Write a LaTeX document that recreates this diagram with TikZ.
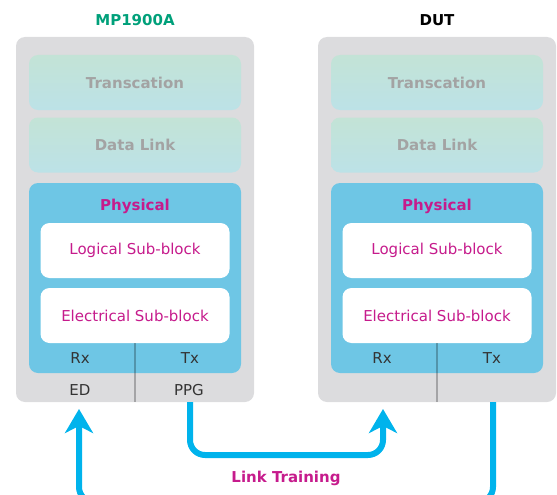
\documentclass[tikz,border=0pt]{standalone}
\usepackage{fontspec}
\setmainfont{DejaVu Sans}
\usetikzlibrary{arrows.meta}

\definecolor{framegray}{HTML}{DCDCDE}
\definecolor{layertop}{HTML}{C3E3D6}
\definecolor{layerbot}{HTML}{BCE2E7}
\definecolor{layertext}{HTML}{A3A3A3}
\definecolor{physblue}{HTML}{6EC6E5}
\definecolor{linkcyan}{HTML}{00B3EC}
\definecolor{labelmag}{HTML}{C61B8C}
\definecolor{titlegreen}{HTML}{00A07A}
\definecolor{portgray}{HTML}{333333}

\tikzset{
    every node/.style={font=\fontsize{15}{18}\selectfont, inner sep=0pt, outer sep=0pt},
    frame/.style={fill=framegray, rounded corners=9pt, minimum width=238pt, minimum height=365pt},
    layer/.style={rounded corners=9pt, top color=layertop, bottom color=layerbot,
        minimum width=212pt, minimum height=55pt, text=layertext, font=\fontsize{15}{18}\selectfont\bfseries},
    phys/.style={fill=physblue, rounded corners=9pt, minimum width=212pt, minimum height=190pt},
    subblock/.style={fill=white, rounded corners=9pt, minimum width=189pt, minimum height=55pt, text=labelmag},
    port/.style={text=portgray},
    divider/.style={draw=black, opacity=0.25, line width=2pt},
    link/.style={draw=linkcyan, line width=6pt, rounded corners=15pt,
        -{Stealth[length=24pt, width=28pt, inset=7pt]}}
}

\begin{document}
\begin{tikzpicture}[x=1pt, y=-1pt]
    \useasboundingbox (0,0) rectangle (557,495);
    \clip (0,0) rectangle (557,495);

    % the two protocol stacks
    \foreach \cx/\id in {135/L, 437/R} {
        \node[frame] (frame\id) at (\cx,219.5) {};
        \node[layer] (trans\id) at (\cx,82.5) {Transcation};
        \node[layer] (dll\id) at (\cx,145) {Data Link};
        \node[phys] (phys\id) at (\cx,278) {};
        \node[text=labelmag, font=\fontsize{15}{18}\selectfont\bfseries] (physlabel\id) at (\cx,206) {Physical};
        \node[subblock] (logic\id) at (\cx,250.5) {Logical Sub-block};
        \node[subblock] (elec\id) at (\cx,315.5) {Electrical Sub-block};
        % the line between Rx and Tx
        \draw[divider] (elec\id.south) -- (frame\id.south);
        \node[port] (rx\id) at (\cx-55,358) {Rx};
        \node[port] (tx\id) at (\cx+55,358) {Tx};
    }

    % titles above the stacks
    \node[text=titlegreen, font=\fontsize{15}{18}\selectfont\bfseries] (mptitle) at (135,20) {MP1900A};
    \node[font=\fontsize{15}{18}\selectfont\bfseries] (duttitle) at (437,20) {DUT};

    % instrument ports
    \node[port] (ed) at (80,390) {ED};
    \node[port] (ppg) at (189,390) {PPG};

    % end points of the link lines
    \coordinate (ppgout) at (190,402);
    \coordinate (dutin) at (383,409);
    \coordinate (dutout) at (493,402);
    \coordinate (edin) at (79,409);

    % PPG to DUT Rx
    \draw[link] (ppgout) -- (190,455) -- (383,455) -- (dutin);
    % DUT Tx back to ED
    \draw[link] (dutout) -- (493,502) -- (79,502) -- (edin);

    \node[text=labelmag, font=\fontsize{15}{18}\selectfont\bfseries] (linklabel) at (286,478) {Link Training};
\end{tikzpicture}
\end{document}
